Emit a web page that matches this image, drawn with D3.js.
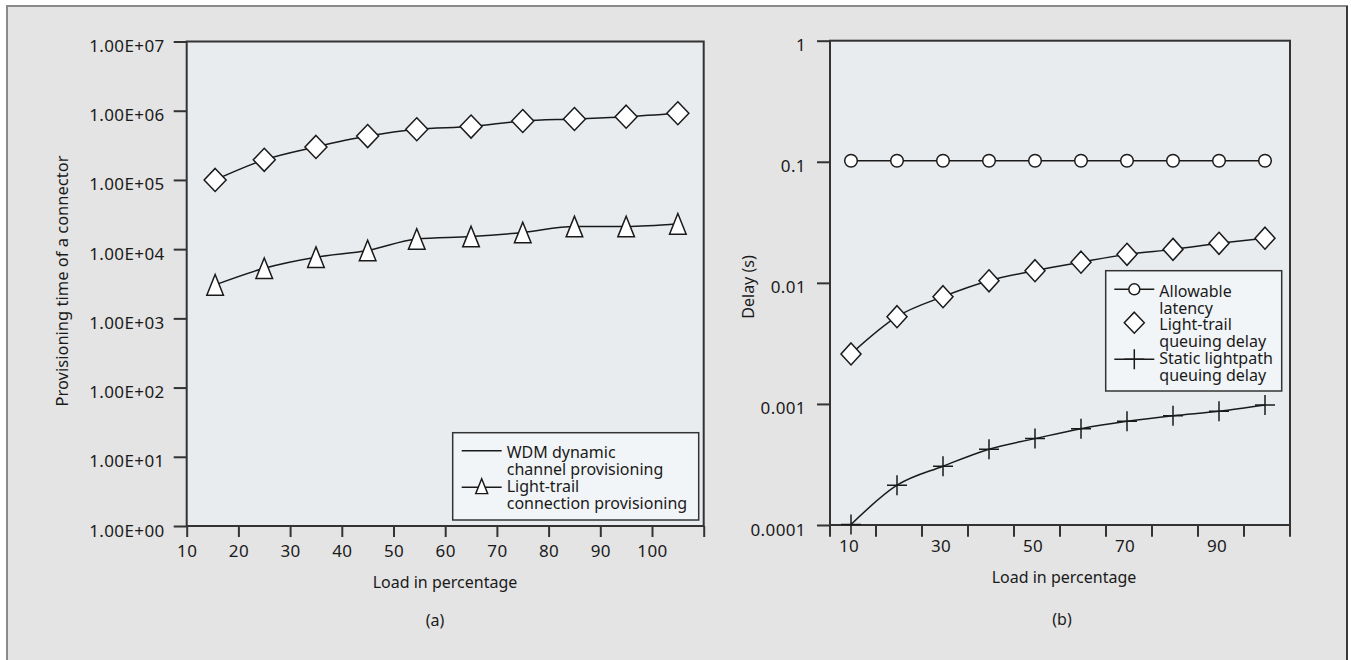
<!DOCTYPE html>
<html>
<head>
<meta charset="utf-8">
<script src="https://cdn.jsdelivr.net/npm/d3@7"></script>
<style>
  html, body { margin: 0; padding: 0; background: #fff; }
  text { font-family: "Noto Sans", sans-serif; fill: #1a1a1a; }
</style>
</head>
<body>
<div id="chart"></div>
<script>
// (a) provisioning time
const loadA = [15.5, 25, 35, 45, 54.5, 65, 75, 85, 95, 105];
const wdmA = [1.0e5, 1.95e5, 3.0e5, 4.3e5, 5.4e5, 5.9e5, 7.1e5, 7.6e5, 8.2e5, 9.2e5];
const lightTrailA = [3050, 5300, 7650, 9550, 14000, 15200, 17400, 21200, 21200, 23200];
const xTicksA = [10, 20, 30, 40, 50, 60, 70, 80, 90, 100, 110];
const yTicksA = [1, 10, 100, 1e3, 1e4, 1e5, 1e6, 1e7];
const yTickLabelsA = ["1.00E+00", "1.00E+01", "1.00E+02", "1.00E+03", "1.00E+04", "1.00E+05", "1.00E+06", "1.00E+07"];

// (b) delay
const loadB = [10, 20, 30, 40, 50, 60, 70, 80, 90, 100];
const allowableB = [0.102, 0.102, 0.102, 0.102, 0.102, 0.102, 0.102, 0.102, 0.102, 0.102];
const lightTrailB = [0.00259, 0.00526, 0.00769, 0.0104, 0.0126, 0.0148, 0.0172, 0.0189, 0.0212, 0.0234];
const staticB = [0.000101, 0.000213, 0.000306, 0.000423, 0.000517, 0.000625, 0.000719, 0.0008, 0.00087, 0.00098];
const xLabelsB = [10, 30, 50, 70, 90];
const yTicksB = [0.0001, 0.001, 0.01, 0.1, 1];
const yTickLabelsB = ["0.0001", "0.001", "0.01", "0.1", "1"];

const plotFill = '#e8ecef';
const legendFill = '#f2f5f7';
const ink = '#1a1a1a';

const svg = d3.select('#chart').append('svg')
  .attr('width', 1351)
  .attr('height', 660);

// outer panel
svg.append('rect')
  .attr('x', 7).attr('y', 6)
  .attr('width', 1340).attr('height', 700)
  .attr('fill', '#e4e4e4')
  .attr('stroke', '#8a8a8a')
  .attr('stroke-width', 2);
svg.append('line')
  .attr('x1', 1347).attr('x2', 1347).attr('y1', 6).attr('y2', 660)
  .attr('stroke', '#3a3a3a').attr('stroke-width', 2);

// marker shapes
function diamond(w, h) { return `M0,${-h} L${w},0 L0,${h} L${-w},0 Z`; }
const triangle = 'M0,-10.3 L8.3,10.3 L-8.3,10.3 Z';
const plus = 'M-10,0 H10 M0,-10 V10';

function styleAxis(g) {
  g.select('.domain').remove();
  g.selectAll('.tick line').attr('stroke', '#333').attr('stroke-width', 2);
  g.selectAll('.tick text')
    .attr('font-size', '17px')
    .attr('letter-spacing', '0.4px')
    .attr('fill', ink)
    .style('font-family', '"Noto Sans", sans-serif');
}

function plotFrame(x0, y0, x1, y1) {
  svg.append('rect')
    .attr('x', x0).attr('y', y0)
    .attr('width', x1 - x0).attr('height', y1 - y0)
    .attr('fill', plotFill)
    .attr('stroke', '#333')
    .attr('stroke-width', 2);
}

function drawLine(xs, ys, x, y) {
  const pts = xs.map((d, i) => [x(d), y(ys[i])]);
  svg.append('path')
    .datum(pts)
    .attr('d', d3.line().curve(d3.curveMonotoneX))
    .attr('fill', 'none')
    .attr('stroke', ink)
    .attr('stroke-width', 1.5);
  return pts;
}

function drawMarkers(pts, shape) {
  svg.append('g').selectAll('path')
    .data(pts)
    .enter().append('path')
    .attr('transform', d => `translate(${d[0]},${d[1]})`)
    .attr('d', shape)
    .attr('fill', shape === plus ? 'none' : '#fff')
    .attr('stroke', ink)
    .attr('stroke-width', 1.5);
}

function drawCircles(pts) {
  svg.append('g').selectAll('circle')
    .data(pts)
    .enter().append('circle')
    .attr('cx', d => d[0]).attr('cy', d => d[1])
    .attr('r', 6.3)
    .attr('fill', '#fff')
    .attr('stroke', ink)
    .attr('stroke-width', 1.5);
}

// ---------------- chart (a) ----------------
const xA = d3.scaleLinear().domain([10, 110]).range([186.7, 703.7]);
const yA = d3.scaleLog().domain([1, 1e7]).range([526, 41.5]);

plotFrame(xA.range()[0], yA.range()[1], xA.range()[1], yA.range()[0]);

const gxA = svg.append('g')
  .attr('transform', `translate(0,${yA.range()[0]})`)
  .call(d3.axisBottom(xA).tickValues(xTicksA).tickSize(11)
    .tickFormat(d => d === 110 ? '' : d))
  .call(styleAxis);
gxA.selectAll('.tick text').attr('y', 19).attr('dy', '0.71em');

const gyA = svg.append('g')
  .attr('transform', `translate(${xA.range()[0]},0)`)
  .call(d3.axisLeft(yA).tickValues(yTicksA).tickSize(13)
    .tickFormat((d, i) => yTickLabelsA[i]))
  .call(styleAxis);
gyA.selectAll('.tick text').attr('x', -22).attr('dy', null).attr('y', 10);

const wdmPts = drawLine(loadA, wdmA, xA, yA);
const ltPtsA = drawLine(loadA, lightTrailA, xA, yA);
drawMarkers(wdmPts, diamond(11, 11.5));
drawMarkers(ltPtsA, triangle);

svg.append('text')
  .attr('transform', 'translate(68,281) rotate(-90)')
  .attr('text-anchor', 'middle')
  .attr('font-size', '16.5px')
  .text('Provisioning time of a connector');

svg.append('text')
  .attr('x', 445).attr('y', 588)
  .attr('text-anchor', 'middle')
  .attr('font-size', '16px')
  .text('Load in percentage');

svg.append('text')
  .attr('x', 435).attr('y', 626)
  .attr('text-anchor', 'middle')
  .attr('font-size', '16px')
  .text('(a)');

// legend (a)
const legA = svg.append('g').attr('transform', 'translate(452.7,432.7)');
legA.append('rect')
  .attr('width', 246).attr('height', 87.3)
  .attr('fill', legendFill)
  .attr('stroke', '#333').attr('stroke-width', 1.5);
legA.append('line')
  .attr('x1', 9).attr('x2', 49).attr('y1', 18).attr('y2', 18)
  .attr('stroke', ink).attr('stroke-width', 1.5);
legA.append('line')
  .attr('x1', 9).attr('x2', 49).attr('y1', 54.6).attr('y2', 54.6)
  .attr('stroke', ink).attr('stroke-width', 1.5);
legA.append('path')
  .attr('transform', 'translate(29,53.5) scale(0.72)')
  .attr('d', triangle)
  .attr('fill', '#fff').attr('stroke', ink).attr('stroke-width', 2);
['WDM dynamic', 'channel provisioning', 'Light-trail', 'connection provisioning'].forEach((t, i) => {
  legA.append('text')
    .attr('x', 54).attr('y', 25.6 + i * 16.9)
    .attr('font-size', '16px')
    .text(t);
});

// ---------------- chart (b) ----------------
const xB = d3.scaleBand().domain(loadB).range([830, 1290]).padding(0);
const yB = d3.scaleLog().domain([1e-4, 1]).range([525, 40.7]);
const xc = d => xB(d) + xB.bandwidth() / 2 - 2;

plotFrame(xB.range()[0], yB.range()[1], xB.range()[1], yB.range()[0]);

// ticks on category boundaries, labels on every second category
const bounds = d3.range(loadB.length + 1).map(i => xB.range()[0] + i * xB.step());
svg.append('g').selectAll('line')
  .data(bounds)
  .enter().append('line')
  .attr('x1', d => d).attr('x2', d => d)
  .attr('y1', yB.range()[0]).attr('y2', yB.range()[0] + 11.7)
  .attr('stroke', '#333').attr('stroke-width', 2);
svg.append('g').selectAll('text')
  .data(xLabelsB)
  .enter().append('text')
  .attr('x', d => xc(d) - 2)
  .attr('y', 551.7)
  .attr('text-anchor', 'middle')
  .attr('font-size', '17px')
  .attr('letter-spacing', '0.4px')
  .text(d => d);

const gyB = svg.append('g')
  .attr('transform', `translate(${xB.range()[0]},0)`)
  .call(d3.axisLeft(yB).tickValues(yTicksB).tickSize(13)
    .tickFormat((d, i) => yTickLabelsB[i]))
  .call(styleAxis);
gyB.selectAll('.tick text').attr('x', -24).attr('dy', null).attr('y', 10);

const allowPts = drawLine(loadB, allowableB, xc, yB);
const ltPtsB = drawLine(loadB, lightTrailB, xc, yB);
const stPts = drawLine(loadB, staticB, xc, yB);
drawCircles(allowPts);
drawMarkers(ltPtsB, diamond(10, 11));
drawMarkers(stPts, plus);

svg.append('text')
  .attr('transform', 'translate(754,287) rotate(-90)')
  .attr('text-anchor', 'middle')
  .attr('font-size', '16px')
  .text('Delay (s)');

svg.append('text')
  .attr('x', 1064).attr('y', 582.7)
  .attr('text-anchor', 'middle')
  .attr('font-size', '16px')
  .text('Load in percentage');

svg.append('text')
  .attr('x', 1062).attr('y', 624.5)
  .attr('text-anchor', 'middle')
  .attr('font-size', '16px')
  .text('(b)');

// legend (b)
const legB = svg.append('g').attr('transform', 'translate(1105.7,270.7)');
legB.append('rect')
  .attr('width', 176).attr('height', 120.3)
  .attr('fill', legendFill)
  .attr('stroke', '#333').attr('stroke-width', 1.5);
legB.append('line')
  .attr('x1', 8.6).attr('x2', 48.6).attr('y1', 18.6).attr('y2', 18.6)
  .attr('stroke', ink).attr('stroke-width', 1.5);
legB.append('circle')
  .attr('cx', 28.6).attr('cy', 18.6).attr('r', 5.5)
  .attr('fill', '#fff').attr('stroke', ink).attr('stroke-width', 1.5);
legB.append('path')
  .attr('transform', 'translate(28.6,52)')
  .attr('d', diamond(10, 10.5))
  .attr('fill', '#fff').attr('stroke', ink).attr('stroke-width', 1.5);
legB.append('line')
  .attr('x1', 8.6).attr('x2', 48.6).attr('y1', 88.6).attr('y2', 88.6)
  .attr('stroke', ink).attr('stroke-width', 1.5);
legB.append('path')
  .attr('transform', 'translate(28.6,88.6)')
  .attr('d', plus)
  .attr('fill', 'none').attr('stroke', ink).attr('stroke-width', 1.5);
['Allowable', 'latency', 'Light-trail', 'queuing delay', 'Static lightpath', 'queuing delay'].forEach((t, i) => {
  legB.append('text')
    .attr('x', 53.6).attr('y', 26 + i * 16.9)
    .attr('font-size', '16px')
    .text(t);
});
</script>
</body>
</html>
